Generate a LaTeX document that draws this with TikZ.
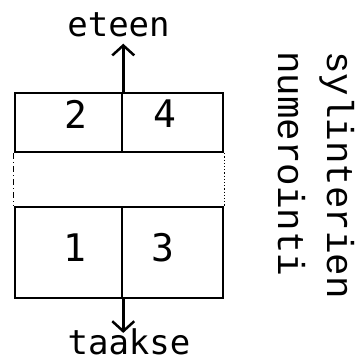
\documentclass[tikz,border=0pt]{standalone}
\usepackage{fontspec}
\usetikzlibrary{arrows.meta,positioning}
\newfontfamily\plotfont{DejaVu Sans Mono}
\newfontfamily\typefont{Liberation Mono}

\begin{document}
\begin{tikzpicture}[x=1pt,y=1pt,line width=2.5pt,
  cell/.style={draw,inner sep=0pt},
  digit/.style={font=\plotfont\fontsize{38}{40}\selectfont,inner sep=0pt},
  word/.style={font=\plotfont\fontsize{34}{36}\selectfont,inner sep=0pt},
  vert/.style={font=\typefont\fontsize{37.5}{40}\selectfont,inner sep=0pt,rotate=-90,anchor=base west},
  arr/.style={-{Straight Barb[length=10pt,width=22pt]},line cap=round}]
\useasboundingbox (0,0) rectangle (356,361);
% cylinders, front pair on top
\foreach \n/\x/\y/\w/\h in {c2/68.5/238.5/107/59,c4/172.5/238.5/101/59,c1/68.5/108.5/107/91,c3/172.5/108.5/101/91}{
  \node[cell,minimum width=\w pt,minimum height=\h pt] (\n) at (\x,\y) {};
}
\foreach \n/\x/\y in {2/76/247,4/165/247,1/75/113,3/163/113}{
  \node[digit] (n\n) at (\x,\y) {\n};
}
\draw[line width=1pt,dash pattern=on 6pt off 3pt on 1pt off 3pt] (c2.south west) -- (c1.north west);
\draw[line width=1.2pt,dotted] (c4.south east) -- (c3.north east);
\node[word,anchor=base] (eteen) at (118.5,324) {eteen};
\node[word,anchor=base] (taakse) at (129,6) {taakse};
\draw[arr,shorten >=5pt] (c2.north east) -- (eteen.south -| c2.north east);
\draw[arr,shorten >=-5pt] (c1.south east) -- (taakse.north -| c1.south east);
\node[vert] (syl) at (327,311) {sylinterien};
\node[vert] (num) at (278,311) {numerointi};
\end{tikzpicture}
\end{document}
